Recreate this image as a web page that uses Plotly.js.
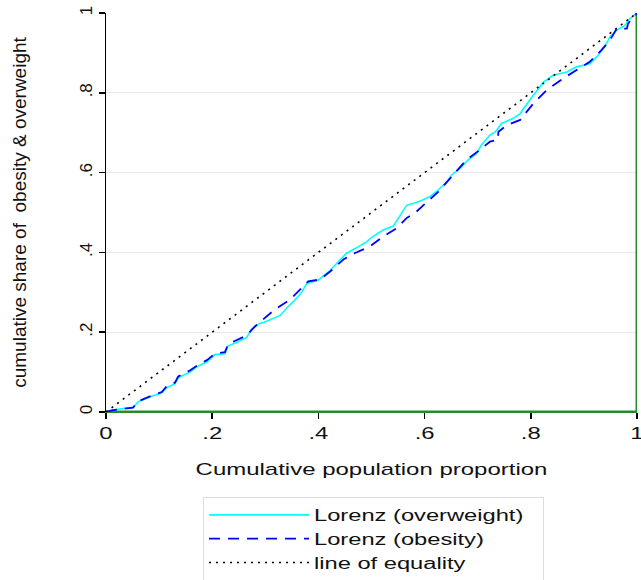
<!DOCTYPE html>
<html>
<head>
<meta charset="utf-8">
<script src="https://cdn.plot.ly/plotly-3.0.1.min.js"></script>
<style>html,body{margin:0;padding:0;background:#fff;}#chart{width:641px;height:580px;}</style>
</head>
<body>
<div id="chart"></div>
<script>
// Lorenz curve (overweight)
const overX = [0, 0.011, 0.051, 0.061, 0.083, 0.105, 0.114, 0.13, 0.136, 0.158, 0.171, 0.19, 0.205, 0.224, 0.23, 0.246, 0.265, 0.274, 0.289, 0.296, 0.328, 0.34, 0.356, 0.369, 0.378, 0.40, 0.419, 0.435, 0.453, 0.472, 0.488, 0.503, 0.522, 0.541, 0.552, 0.566, 0.591, 0.61, 0.626, 0.642, 0.651, 0.667, 0.682, 0.698, 0.707, 0.723, 0.733, 0.745, 0.767, 0.78, 0.798, 0.824, 0.842, 0.868, 0.886, 0.911, 0.924, 0.939, 0.949, 0.962, 0.977, 0.987, 1];
const overY = [0, 0.005, 0.012, 0.026, 0.038, 0.048, 0.061, 0.071, 0.086, 0.100, 0.113, 0.126, 0.144, 0.146, 0.166, 0.174, 0.187, 0.207, 0.222, 0.224, 0.242, 0.26, 0.281, 0.301, 0.322, 0.331, 0.351, 0.372, 0.398, 0.412, 0.424, 0.44, 0.456, 0.466, 0.49, 0.518, 0.528, 0.54, 0.557, 0.577, 0.594, 0.611, 0.632, 0.648, 0.669, 0.694, 0.702, 0.723, 0.736, 0.748, 0.782, 0.827, 0.844, 0.852, 0.865, 0.873, 0.89, 0.915, 0.94, 0.957, 0.969, 0.986, 1];
// Lorenz curve (obesity)
const obesX = [0, 0.011, 0.051, 0.061, 0.083, 0.105, 0.114, 0.13, 0.136, 0.158, 0.171, 0.19, 0.205, 0.224, 0.23, 0.246, 0.265, 0.281, 0.318, 0.347, 0.365, 0.381, 0.403, 0.422, 0.447, 0.469, 0.497, 0.522, 0.548, 0.566, 0.585, 0.604, 0.626, 0.651, 0.679, 0.704, 0.723, 0.738, 0.739, 0.755, 0.78, 0.805, 0.83, 0.861, 0.886, 0.911, 0.933, 0.949, 0.962, 0.981, 0.983, 1];
const obesY = [0, 0.004, 0.011, 0.027, 0.039, 0.05, 0.064, 0.074, 0.089, 0.104, 0.116, 0.13, 0.146, 0.15, 0.17, 0.18, 0.192, 0.215, 0.257, 0.282, 0.307, 0.3275, 0.332, 0.352, 0.382, 0.3985, 0.415, 0.44, 0.461, 0.486, 0.5025, 0.525, 0.5525, 0.59, 0.632, 0.657, 0.6775, 0.682, 0.7025, 0.719, 0.732, 0.7735, 0.807, 0.836, 0.857, 0.8775, 0.907, 0.932, 0.961, 0.961, 0.973, 1];
// Line of equality
const eqX = [0, 1];
const eqY = [0, 1];
// Frame (green) line
const frameX = [0, 1, 1];
const frameY = [0, 0, 1];
// Ticks
const tickVals = [0, 0.2, 0.4, 0.6, 0.8, 1];
const tickText = ["0", ".2", ".4", ".6", ".8", "1"];
const names = ["Lorenz (overweight)", "Lorenz (obesity)", "line of equality"];

const FONT = "Liberation Sans, Arial, sans-serif";
const TXT = '#111111';
const GREEN = '#2a8a2a';

const traces = [
  {x: frameX, y: frameY, mode: 'lines', line: {color: GREEN, width: 3}, showlegend: false, hoverinfo: 'skip'},
  {x: overX, y: overY, mode: 'lines', name: names[0], line: {color: '#00ffff', width: 1.6}},
  {x: obesX, y: obesY, mode: 'lines', name: names[1], line: {color: '#0000ff', width: 1.8, dash: '11px,8px'}},
  {x: eqX, y: eqY, mode: 'lines', name: names[2], line: {color: '#000000', width: 1.6, dash: '2px,5px'}}
];

const layout = {
  width: 641, height: 580,
  margin: {l: 106, r: 4, t: 13, b: 168, autoexpand: false},
  paper_bgcolor: '#ffffff', plot_bgcolor: '#ffffff',
  font: {family: FONT, size: 17, color: TXT},
  showlegend: true,
  xaxis: {
    range: [0, 1], tickvals: tickVals, ticktext: tickText,
    showgrid: false, zeroline: false,
    showline: true, linecolor: GREEN, linewidth: 1,
    ticks: 'outside', ticklen: 6, tickcolor: '#000', tickwidth: 1.5,
    ticklabeloverflow: 'allow',
    tickfont: {family: FONT, size: 17, color: TXT},
    title: {text: 'Cumulative population proportion', font: {family: FONT, size: 17, color: TXT}, standoff: 20}
  },
  yaxis: {
    range: [0, 1], tickvals: tickVals, ticktext: tickText,
    showgrid: true, gridcolor: '#e9e9e9', gridwidth: 1, zeroline: false,
    showline: true, linecolor: '#000', linewidth: 1.5,
    ticks: 'outside', ticklen: 6, tickcolor: '#000', tickwidth: 1.5,
    tickangle: -90, ticklabeloverflow: 'allow',
    tickfont: {family: FONT, size: 17, color: TXT},
    title: {text: 'cumulative share of  obesity &amp; overweight', font: {family: FONT, size: 19, color: TXT}, standoff: 45}
  },
  legend: {
    x: 0.1827, y: -0.213, xanchor: 'left', yanchor: 'top',
    bgcolor: '#ffffff', bordercolor: '#dddddd', borderwidth: 1,
    font: {family: FONT, size: 16, color: TXT},
    itemwidth: 100, tracegroupgap: 0
  }
};

Plotly.newPlot('chart', traces, layout, {displayModeBar: false, staticPlot: true}).then(function (gd) {
  // The reference's text is horizontally widened; reproduce that with SVG textLength.
  function stretch(el, f) {
    var w = el.getComputedTextLength();
    el.setAttribute('textLength', (w * f).toFixed(1));
    el.setAttribute('lengthAdjust', 'spacingAndGlyphs');
    return w * (f - 1);
  }
  gd.querySelectorAll('.xtitle').forEach(function (el) { stretch(el, 1.41); });
  gd.querySelectorAll('.xtick text').forEach(function (el) { stretch(el, 1.4); });
  var extra = 0;
  gd.querySelectorAll('.legendtext').forEach(function (el) { extra = Math.max(extra, stretch(el, 1.48)); });
  extra += 14;
  var bg = gd.querySelector('.legend rect.bg');
  if (bg) bg.setAttribute('width', (+bg.getAttribute('width') + extra).toFixed(1));
  document.querySelectorAll('clipPath[id*="legend"] rect').forEach(function (r) {
    r.setAttribute('width', (+r.getAttribute('width') + extra).toFixed(1));
  });
});
</script>
</body>
</html>
